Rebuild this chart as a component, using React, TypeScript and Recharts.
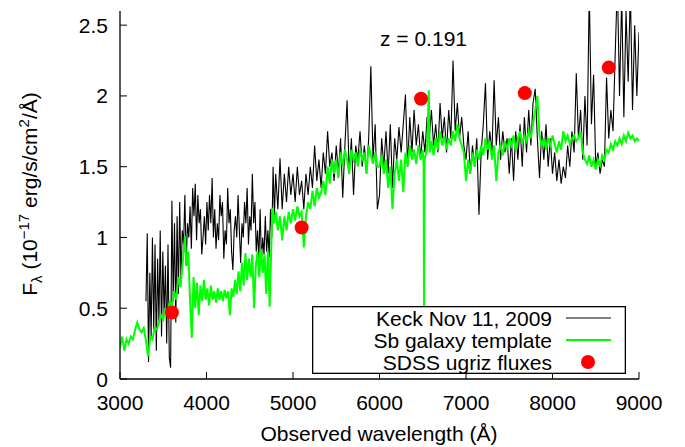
import {
  ComposedChart,
  Line,
  Scatter,
  XAxis,
  YAxis,
  Legend,
  Customized,
} from 'recharts';

// Keck spectrum, [wavelength in Å, flux in 1e-17 erg/s/cm2/Å]
const keckSpectrum: [number, number][] = [
  [3300, 0.55], [3315, 1.03], [3330, 0.12], [3345, 0.75], [3360, 0.3], [3375, 1.0], [3390, 0.35], [3405, 0.95], [3420, 0.2], [3435, 0.85],
  [3450, 0.4], [3465, 1.05], [3480, 0.3], [3495, 0.9], [3510, 0.45], [3525, 0.8], [3540, 0.25], [3555, 0.95], [3570, 0.15], [3585, 0.08],
  [3600, 1.26], [3615, 0.55], [3630, 1.1], [3645, 0.4], [3660, 1.15], [3675, 0.6], [3690, 1.25], [3705, 0.7], [3720, 1.05], [3735, 0.95],
  [3750, 1.3], [3765, 0.8], [3780, 1.1], [3795, 1.0], [3810, 1.22], [3825, 0.92], [3840, 1.35], [3855, 1.15], [3870, 1.38], [3885, 0.98],
  [3900, 1.3], [3915, 1.1], [3930, 1.2], [3945, 0.88], [3960, 1.0], [3975, 1.15], [3990, 0.95], [4005, 1.25], [4020, 1.05], [4035, 1.3],
  [4050, 1.1], [4065, 1.42], [4080, 1.0], [4095, 1.2], [4110, 0.92], [4125, 1.1], [4140, 0.98], [4155, 1.3], [4170, 1.15], [4185, 1.25],
  [4200, 0.85], [4215, 1.05], [4230, 0.95], [4245, 1.35], [4260, 1.1], [4275, 1.2], [4290, 0.9], [4305, 0.77], [4320, 1.05], [4335, 1.15],
  [4350, 1.0], [4365, 1.3], [4380, 1.05], [4395, 0.82], [4410, 1.1], [4425, 1.0], [4440, 1.25], [4455, 1.1], [4470, 1.35], [4485, 0.95],
  [4500, 1.15], [4515, 1.05], [4530, 1.45], [4545, 1.1], [4560, 1.25], [4575, 0.9], [4590, 1.05], [4605, 0.85], [4620, 1.2], [4635, 0.83],
  [4650, 1.0], [4665, 0.88], [4680, 1.15], [4695, 0.9], [4710, 1.05], [4725, 0.86], [4740, 1.2], [4755, 1.0], [4770, 1.5], [4785, 1.15],
  [4800, 1.45], [4825, 1.2], [4850, 1.56], [4875, 1.2], [4900, 1.45], [4925, 1.25], [4950, 1.5], [4975, 1.3],
  [5000, 1.45], [5025, 1.25], [5050, 1.5], [5075, 1.3], [5100, 1.4], [5125, 1.2], [5150, 1.45], [5175, 1.3], [5200, 1.5], [5225, 1.35],
  [5250, 1.65], [5275, 1.4], [5300, 1.55], [5325, 1.35], [5350, 1.6], [5375, 1.45], [5400, 1.75], [5425, 1.5], [5450, 1.6], [5475, 1.4],
  [5500, 1.65], [5525, 1.45], [5550, 1.7], [5575, 1.28], [5600, 1.65], [5625, 1.97], [5650, 1.45], [5675, 1.7], [5700, 1.3], [5725, 1.65],
  [5750, 1.55], [5775, 1.75], [5800, 1.5], [5825, 1.65], [5850, 1.45], [5875, 1.7], [5900, 2.21], [5925, 1.55], [5950, 1.8], [5975, 1.2],
  [6000, 1.3], [6025, 1.7], [6050, 1.5], [6075, 1.75], [6100, 1.45], [6125, 1.8], [6150, 1.35], [6175, 1.7], [6200, 1.55], [6225, 1.78],
  [6250, 1.6], [6275, 1.8], [6300, 2.01], [6325, 1.5], [6350, 1.85], [6375, 1.6], [6400, 1.9], [6425, 1.65], [6450, 1.8], [6475, 1.55],
  [6500, 1.75], [6525, 1.6], [6550, 1.85], [6575, 1.7], [6600, 1.9], [6625, 1.65], [6650, 1.8], [6675, 1.6], [6700, 1.95], [6725, 1.7],
  [6750, 1.85], [6775, 1.6], [6800, 1.9], [6825, 1.7], [6850, 2.25], [6875, 1.75], [6900, 1.95], [6925, 1.7], [6950, 1.85], [6975, 1.65],
  [7000, 1.55], [7025, 1.75], [7050, 1.45], [7075, 1.65], [7100, 1.5], [7125, 1.7], [7150, 1.16], [7175, 1.6], [7200, 1.8], [7225, 2.09],
  [7250, 1.55], [7275, 1.75], [7300, 1.6], [7325, 2.11], [7350, 1.65], [7375, 1.85], [7400, 1.55], [7425, 1.75], [7450, 1.6], [7475, 1.7],
  [7500, 1.45], [7525, 1.7], [7550, 1.4], [7575, 1.75], [7600, 1.55], [7625, 1.8], [7650, 1.5], [7675, 1.85], [7700, 1.6], [7725, 1.9],
  [7750, 1.65], [7775, 1.95], [7800, 2.05], [7825, 1.7], [7850, 1.42], [7875, 1.75], [7900, 1.55], [7925, 1.8], [7950, 1.5], [7975, 1.7],
  [8000, 1.45], [8025, 1.6], [8050, 1.4], [8075, 1.55], [8100, 1.38], [8125, 1.5], [8150, 1.42], [8175, 1.65], [8200, 1.5], [8225, 1.75],
  [8250, 1.6], [8275, 2.16], [8300, 1.7], [8325, 1.9], [8350, 1.55], [8375, 2.0], [8400, 1.65], [8425, 2.75], [8450, 1.8], [8475, 2.15],
  [8500, 1.5], [8525, 1.6], [8550, 1.45], [8575, 1.55], [8600, 1.5], [8625, 2.13], [8650, 1.7], [8675, 1.9], [8700, 1.75], [8725, 2.3],
  [8750, 2.8], [8775, 2.0], [8800, 2.7], [8825, 1.85], [8850, 2.6], [8875, 2.1], [8900, 2.75], [8925, 1.9], [8950, 2.5], [8975, 2.0], [9000, 2.45],
];

// Sb galaxy template at z = 0.191
const sbTemplate: [number, number][] = [
  [3000, 0.22], [3025, 0.3], [3050, 0.2], [3075, 0.28], [3100, 0.25], [3125, 0.3], [3150, 0.28], [3175, 0.35], [3200, 0.4], [3225, 0.35],
  [3250, 0.33], [3275, 0.36], [3300, 0.27], [3325, 0.16], [3350, 0.3], [3375, 0.28], [3400, 0.36], [3425, 0.35], [3450, 0.4], [3475, 0.45],
  [3500, 0.42], [3525, 0.5], [3550, 0.45], [3575, 0.55], [3600, 0.5], [3625, 0.62], [3650, 0.56], [3675, 0.72], [3700, 0.65], [3725, 0.82],
  [3750, 1.01], [3770, 0.8], [3790, 0.9], [3810, 0.55], [3830, 0.29], [3850, 0.72], [3870, 0.5], [3890, 0.68], [3910, 0.45], [3930, 0.66],
  [3950, 0.55], [3970, 0.7], [3990, 0.56], [4010, 0.64], [4030, 0.52], [4050, 0.66], [4070, 0.56], [4090, 0.62], [4110, 0.54], [4130, 0.64],
  [4150, 0.56], [4170, 0.62], [4190, 0.55], [4210, 0.63], [4230, 0.57], [4250, 0.62], [4270, 0.45], [4290, 0.64], [4310, 0.58], [4330, 0.7],
  [4350, 0.6], [4370, 0.76], [4390, 0.62], [4410, 0.82], [4430, 0.66], [4450, 0.89], [4470, 0.7], [4490, 0.85], [4510, 0.72], [4530, 0.88],
  [4550, 0.5], [4570, 0.8], [4590, 0.9], [4610, 0.72], [4630, 0.92], [4650, 0.75], [4670, 0.88], [4690, 0.6], [4710, 0.9], [4730, 0.51],
  [4750, 0.95], [4760, 1.21], [4780, 1.1], [4800, 1.18], [4825, 1.05], [4850, 1.15], [4875, 0.98], [4900, 1.15], [4925, 1.05], [4950, 1.18],
  [4975, 1.1], [5000, 1.2], [5025, 1.12], [5050, 1.22], [5075, 1.15], [5100, 1.18], [5125, 0.93], [5150, 1.15], [5175, 1.25], [5200, 1.2],
  [5225, 1.33], [5250, 1.22], [5275, 1.35], [5300, 1.28], [5325, 1.32], [5350, 1.4], [5375, 1.3], [5400, 1.5], [5425, 1.38], [5450, 1.55],
  [5475, 1.45], [5500, 1.55], [5525, 1.42], [5550, 1.6], [5575, 1.5], [5600, 1.62], [5625, 1.55], [5650, 1.45], [5675, 1.62], [5700, 1.55],
  [5725, 1.6], [5750, 1.5], [5775, 1.62], [5800, 1.55], [5825, 1.6], [5850, 1.45], [5875, 1.65], [5900, 1.58], [5925, 1.52], [5950, 1.6],
  [5975, 1.5], [6000, 1.5], [6025, 1.58], [6050, 1.45], [6075, 1.55], [6100, 1.35], [6125, 1.5], [6150, 1.2], [6175, 1.45], [6200, 1.55],
  [6225, 1.4], [6250, 1.55], [6275, 1.32], [6300, 1.6], [6325, 1.5], [6350, 1.65], [6375, 1.55], [6400, 1.62], [6425, 1.52], [6450, 1.65],
  [6475, 1.55], [6500, 1.62], [6510, 1.5], [6515, 0.5], [6520, 1.55], [6550, 1.62], [6570, 2.04], [6580, 1.6], [6600, 1.68], [6625, 1.58],
  [6650, 1.7], [6675, 1.62], [6700, 1.75], [6725, 1.65], [6750, 1.72], [6775, 1.62], [6800, 1.7], [6825, 1.65], [6850, 1.75], [6875, 1.68],
  [6900, 1.8], [6925, 1.7], [6950, 1.65], [6975, 1.6], [7000, 1.4], [7025, 1.55], [7050, 1.45], [7075, 1.6], [7100, 1.5], [7125, 1.62],
  [7150, 1.55], [7175, 1.65], [7200, 1.58], [7225, 1.7], [7250, 1.62], [7275, 1.68], [7300, 1.55], [7325, 1.65], [7350, 1.4], [7375, 1.6],
  [7400, 1.65], [7425, 1.58], [7450, 1.68], [7475, 1.62], [7500, 1.7], [7525, 1.65], [7550, 1.72], [7575, 1.62], [7600, 1.7], [7625, 1.75],
  [7650, 1.66], [7675, 1.72], [7700, 1.68], [7725, 1.75], [7750, 1.7], [7775, 1.8], [7800, 1.9], [7825, 2.0], [7850, 1.72], [7875, 1.65],
  [7900, 1.7], [7925, 1.62], [7950, 1.7], [7975, 1.65], [8000, 1.72], [8025, 1.66], [8050, 1.6], [8075, 1.68], [8100, 1.62], [8125, 1.75],
  [8150, 1.68], [8175, 1.72], [8200, 1.66], [8225, 1.7], [8250, 1.72], [8275, 1.68], [8300, 1.7], [8325, 1.75], [8350, 1.6], [8375, 1.55],
  [8400, 1.52], [8425, 1.58], [8450, 1.5], [8475, 1.55], [8500, 1.48], [8525, 1.55], [8550, 1.5], [8575, 1.58], [8600, 1.55], [8625, 1.62],
  [8650, 1.6], [8675, 1.66], [8700, 1.62], [8725, 1.68], [8750, 1.65], [8775, 1.7], [8800, 1.66], [8825, 1.72], [8850, 1.68], [8875, 1.74],
  [8900, 1.7], [8925, 1.72], [8950, 1.68], [8975, 1.7], [9000, 1.68],
];

// SDSS ugriz photometry
const sdssWave = [3600, 5100, 6480, 7680, 8650];
const sdssFlux = [0.47, 1.07, 1.98, 2.02, 2.2];

const xTicks = [3000, 4000, 5000, 6000, 7000, 8000, 9000];
const yTicks = [0, 0.5, 1, 1.5, 2, 2.5];

const SERIES_NAMES = ['Keck Nov 11, 2009', 'Sb galaxy template', 'SDSS ugriz fluxes'];

const FONT = '"Liberation Sans", Arial, Helvetica, sans-serif';
const FS = 21;
const TICK_LEN = 7;

const keckData = keckSpectrum.map(([w, f]) => ({ w, f }));
const templateData = sbTemplate.map(([w, f]) => ({ w, f }));
const sdssData = sdssWave.map((w, i) => ({ w, f: sdssFlux[i] }));

function BottomTick({ x, y, payload }: any) {
  return (
    <g>
      <line x1={x} x2={x} y1={y} y2={y - TICK_LEN} stroke="#000" />
      <text x={x} y={y + 31} textAnchor="middle" fontSize={FS} fontFamily={FONT} fill="#000">
        {payload.value}
      </text>
    </g>
  );
}

function TopTick({ x, y }: any) {
  return <line x1={x} x2={x} y1={y} y2={y + TICK_LEN} stroke="#000" />;
}

function LeftTick({ x, y, payload }: any) {
  return (
    <g>
      <line x1={x} x2={x + TICK_LEN} y1={y} y2={y} stroke="#000" />
      <text x={x - 12} y={y + 7.5} textAnchor="end" fontSize={FS} fontFamily={FONT} fill="#000">
        {payload.value}
      </text>
    </g>
  );
}

function RightTick({ x, y }: any) {
  return <line x1={x} x2={x - TICK_LEN} y1={y} y2={y} stroke="#000" />;
}

function Labels() {
  return (
    <g fontFamily={FONT} fill="#000">
      <text x={380} y={46} fontSize={FS}>
        z = 0.191
      </text>
      <text x={379} y={441} fontSize={FS} textAnchor="middle">
        Observed wavelength (Å)
      </text>
      <text transform="translate(37,194) rotate(-90)" fontSize={FS} textAnchor="middle">
        F
        <tspan dy={5} fontSize={15}>λ</tspan>
        <tspan dy={-5}> (10</tspan>
        <tspan dy={-8} fontSize={15}>−17</tspan>
        <tspan dy={8}> erg/s/cm</tspan>
        <tspan dy={-8} fontSize={15}>2</tspan>
        <tspan dy={8}>/Å)</tspan>
      </text>
    </g>
  );
}

function LegendBox() {
  const baselines = [20, 42, 64];
  return (
    <svg width={314} height={68} style={{ display: 'block' }}>
      <rect x={0.65} y={0.65} width={312.7} height={66.7} fill="#fff" stroke="#000" strokeWidth={1.3} />
      {SERIES_NAMES.map((name, i) => (
        <text
          key={name}
          x={240}
          y={baselines[i]}
          textAnchor="end"
          fontSize={FS}
          fontFamily={FONT}
          fill="#000"
        >
          {name}
        </text>
      ))}
      <line x1={254} x2={299} y1={12} y2={12} stroke="#000" strokeWidth={1} />
      <line x1={254} x2={299} y1={34} y2={34} stroke="#00ff00" strokeWidth={2} />
      <circle cx={276} cy={56} r={7} fill="#ff0000" />
    </svg>
  );
}

export default function App() {
  return (
    <div style={{ position: 'absolute', left: 0, top: 0, background: '#fff', fontFamily: FONT }}>
      <ComposedChart width={685} height={447} margin={{ top: 11, right: 46, bottom: 38, left: 60 }}>
        <XAxis
          dataKey="w"
          type="number"
          domain={[3000, 9000]}
          ticks={xTicks}
          allowDataOverflow
          height={30}
          tickSize={0}
          tickMargin={0}
          tick={<BottomTick />}
          axisLine={{ stroke: '#000', strokeWidth: 1.3 }}
          interval={0}
        />
        <XAxis
          xAxisId="top"
          orientation="top"
          dataKey="w"
          type="number"
          domain={[3000, 9000]}
          ticks={xTicks}
          height={0}
          tickSize={0}
          tickMargin={0}
          tick={<TopTick />}
          axisLine={{ stroke: '#000', strokeWidth: 1.3 }}
          interval={0}
        />
        <YAxis
          type="number"
          domain={[0, 2.6]}
          ticks={yTicks}
          allowDataOverflow
          width={60}
          tickSize={0}
          tickMargin={0}
          tick={<LeftTick />}
          axisLine={{ stroke: '#000', strokeWidth: 1.3 }}
          interval={0}
        />
        <YAxis
          yAxisId="right"
          orientation="right"
          type="number"
          domain={[0, 2.6]}
          ticks={yTicks}
          width={0}
          tickSize={0}
          tickMargin={0}
          tick={<RightTick />}
          axisLine={{ stroke: '#000', strokeWidth: 1.3 }}
          interval={0}
        />
        <Line
          data={keckData}
          dataKey="f"
          name={SERIES_NAMES[0]}
          type="linear"
          stroke="#000"
          strokeWidth={1.1}
          dot={false}
          activeDot={false}
          isAnimationActive={false}
        />
        <Line
          data={templateData}
          dataKey="f"
          name={SERIES_NAMES[1]}
          type="linear"
          stroke="#00ff00"
          strokeWidth={2}
          dot={false}
          activeDot={false}
          isAnimationActive={false}
        />
        <Scatter
          data={sdssData}
          dataKey="f"
          name={SERIES_NAMES[2]}
          fill="#ff0000"
          isAnimationActive={false}
          shape={(p: any) => <circle cx={p.cx} cy={p.cy} r={7} fill="#ff0000" />}
        />
        <Customized component={<Labels />} />
        <Legend
          layout="vertical"
          align="center"
          verticalAlign="middle"
          content={() => <LegendBox />}
          wrapperStyle={{ left: 312, top: 306, width: 314, height: 68 }}
        />
      </ComposedChart>
    </div>
  );
}
